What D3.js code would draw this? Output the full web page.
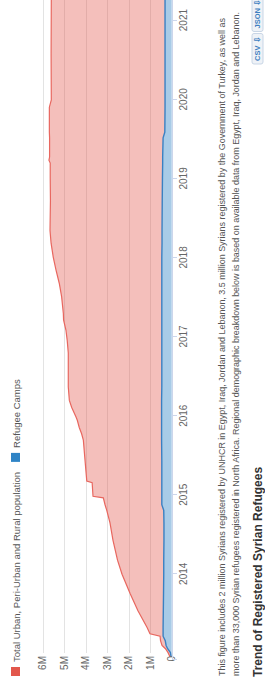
<!DOCTYPE html>
<html>
<head>
<meta charset="utf-8">
<title>Trend of Registered Syrian Refugees</title>
<style>
  body { margin: 0; background: #fff; }
  svg { display: block; font-family: "Liberation Sans", Arial, sans-serif; }
  .grid line { stroke: #e3e3e3; stroke-width: 1px; shape-rendering: crispEdges; }
  .grid path { display: none; }
  .yaxis path, .yaxis line { display: none; }
  .yaxis text, .xaxis text { fill: #666; font-size: 10px; }
  .xaxis path, .xaxis line { stroke: #ccd6eb; shape-rendering: crispEdges; }
  .legend text { fill: #555; font-size: 9.5px; }
  .note { fill: #555; font-size: 9px; }
  .title { fill: #333; font-size: 12px; font-weight: bold; }
  .btn rect { fill: #eef2f7; stroke: #c9d6e6; }
  .btn text { fill: #3f7fc0; font-size: 7.5px; font-weight: bold; }
</style>
</head>
<body>
<svg id="chart" width="265" height="680"></svg>
<script src="https://d3js.org/d3.v7.min.js"></script>
<script>
// values in millions
var dates = [
  "2012-12-16", "2013-01-04", "2013-01-22", "2013-02-06", "2013-02-28", "2013-03-21",
  "2013-04-01", "2013-05-01", "2013-07-16", "2013-10-05", "2014-01-01", "2014-03-07",
  "2014-06-07", "2014-08-26", "2014-10-23", "2014-11-18", "2014-12-20", "2014-12-27",
  "2015-02-28", "2015-03-07", "2015-06-10", "2015-09-13", "2015-10-12", "2015-11-10",
  "2015-12-13", "2015-12-28", "2016-02-10", "2016-03-14", "2016-05-15", "2016-07-31",
  "2016-10-19", "2016-12-16", "2017-02-02", "2017-03-21", "2017-04-20", "2017-07-06",
  "2017-09-06", "2017-11-06", "2018-01-05", "2018-03-10", "2018-05-08", "2018-09-24",
  "2019-01-05", "2019-03-15", "2019-03-28", "2019-04-12", "2019-07-10", "2019-08-05",
  "2019-11-28", "2020-01-01", "2020-08-01", "2021-04-20"
];
var totalM = [
  0.08, 0.17, 0.29, 0.45, 0.52, 0.54,
  1.01, 1.15, 1.57, 1.94, 2.31, 2.52,
  2.73, 2.87, 3.02, 3.10, 3.18, 3.66,
  3.70, 3.95, 4.03, 4.11, 4.19, 4.30,
  4.39, 4.45, 4.65, 4.76, 4.81, 4.81,
  4.81, 4.86, 4.92, 5.03, 5.04, 5.12,
  5.23, 5.38, 5.51, 5.61, 5.66, 5.64,
  5.65, 5.65, 5.71, 5.68, 5.68, 5.69,
  5.69, 5.60, 5.61, 5.60
];
var campsM = [
  0.03, 0.06, 0.19, 0.26, 0.30, 0.40,
  0.40, 0.40, 0.39, 0.38, 0.37, 0.37,
  0.36, 0.36, 0.37, 0.46, 0.46, 0.46,
  0.46, 0.46, 0.46, 0.47, 0.47, 0.47,
  0.47, 0.47, 0.47, 0.47, 0.46, 0.46,
  0.46, 0.46, 0.46, 0.46, 0.46, 0.46,
  0.46, 0.46, 0.46, 0.45, 0.45, 0.44,
  0.43, 0.42, 0.42, 0.42, 0.40, 0.32,
  0.31, 0.31, 0.31, 0.31
];
var yTicks = [0, 1, 2, 3, 4, 5, 6];
var yearTicks = ["2014", "2015", "2016", "2017", "2018", "2019", "2020", "2021"];
var seriesNames = ["Total Urban, Peri-Urban and Rural population", "Refugee Camps"];
var seriesColors = ["#e2574c", "#2f84c6"];
var noteLines = [
  "This figure includes 2 million Syrians registered by UNHCR in Egypt, Iraq, Jordan and Lebanon, 3.5 million Syrians registered by the Government of Turkey, as well as",
  "more than 33,000 Syrian refugees registered in North Africa. Regional demographic breakdown below is based on available data from Egypt, Iraq, Jordan and Lebanon."
];
var titleText = "Trend of Registered Syrian Refugees";
var buttons = ["CSV", "JSON"];

var W = 680, H = 265;
var svg = d3.select("#chart");
// the page is shown turned a quarter turn to the left
var g = svg.append("g").attr("transform", "translate(0," + W + ") rotate(-90)");

var parse = d3.timeParse("%Y-%m-%d");
var rows = dates.map(function(d, i) {
  return { date: parse(d), total: totalM[i], camps: campsM[i] };
});

var x = d3.scaleTime()
  .domain([parse("2012-12-01"), parse("2021-04-20")])
  .range([20, 683]);
var y = d3.scaleLinear().domain([0, 6]).range([171.7, 42.7]);

// grid
g.append("g")
  .attr("class", "grid")
  .attr("transform", "translate(27,0)")
  .call(d3.axisLeft(y).tickValues(yTicks).tickSize(-(W - 27)).tickFormat(""));

// areas
var campArea = d3.area()
  .x(function(d) { return x(d.date); })
  .y0(y(0))
  .y1(function(d) { return y(d.camps); });
var urbanArea = d3.area()
  .x(function(d) { return x(d.date); })
  .y0(function(d) { return y(d.camps); })
  .y1(function(d) { return y(d.total); });

g.append("path").datum(rows)
  .attr("d", urbanArea)
  .attr("fill", seriesColors[0])
  .attr("fill-opacity", 0.38);
g.append("path").datum(rows)
  .attr("d", campArea)
  .attr("fill", seriesColors[1])
  .attr("fill-opacity", 0.42);

g.append("path").datum(rows)
  .attr("d", d3.line().x(function(d) { return x(d.date); }).y(function(d) { return y(d.total); }))
  .attr("fill", "none")
  .attr("stroke", "#e8675f")
  .attr("stroke-width", 1.2);
g.append("path").datum(rows)
  .attr("d", d3.line().x(function(d) { return x(d.date); }).y(function(d) { return y(d.camps); }))
  .attr("fill", "none")
  .attr("stroke", "#3a80c2")
  .attr("stroke-width", 1.4);

// axes
g.append("g")
  .attr("class", "yaxis")
  .attr("transform", "translate(24,0)")
  .call(d3.axisLeft(y).tickValues(yTicks).tickSize(0).tickPadding(0)
    .tickFormat(function(d) { return d === 0 ? "0" : d + "M"; }));

g.append("g")
  .attr("class", "xaxis")
  .attr("transform", "translate(0," + y(0) + ")")
  .call(d3.axisBottom(x).tickValues(yearTicks.map(d3.timeParse("%Y"))).tickSize(5).tickPadding(3)
    .tickFormat(d3.timeFormat("%Y")));

// legend
var legend = g.append("g").attr("class", "legend").attr("transform", "translate(4,11)");
var lx = 0;
seriesNames.forEach(function(name, i) {
  legend.append("rect")
    .attr("x", lx).attr("y", 0)
    .attr("width", 9).attr("height", 9)
    .attr("fill", seriesColors[i]);
  var t = legend.append("text")
    .attr("x", lx + 14).attr("y", 8.5)
    .text(name);
  lx += 14 + t.node().getComputedTextLength() + 10;
});

// footnote
g.selectAll(".note")
  .data(noteLines)
  .enter().append("text")
  .attr("class", "note")
  .attr("x", 4)
  .attr("y", function(d, i) { return 225 + i * 14; })
  .attr("textLength", function(d, i) { return i === 0 ? 658 : 664; })
  .text(function(d) { return d; });

// title of the next block
g.append("text")
  .attr("class", "title")
  .attr("x", 3)
  .attr("y", 262)
  .text(titleText);

// download buttons
var bx = 616;
buttons.forEach(function(b) {
  var bg = g.append("g").attr("class", "btn").attr("transform", "translate(" + bx + ",252)");
  var t = bg.append("text").attr("x", 3).attr("y", 8).text(b + " \u21e9");
  var w = t.node().getComputedTextLength() + 6;
  bg.insert("rect", "text").attr("width", w).attr("height", 11).attr("rx", 2);
  bx += w + 2;
});
</script>
</body>
</html>
